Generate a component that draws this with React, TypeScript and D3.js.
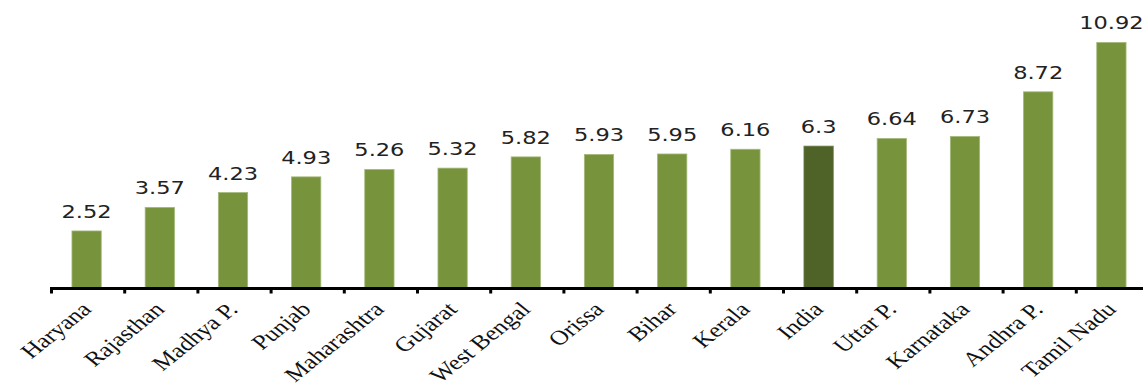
import React from "react";
import * as d3 from "d3";

const categories = ["Haryana","Rajasthan","Madhya P.","Punjab","Maharashtra","Gujarat","West Bengal","Orissa","Bihar","Kerala","India","Uttar P.","Karnataka","Andhra P.","Tamil Nadu"];
const values = [2.52,3.57,4.23,4.93,5.26,5.32,5.82,5.93,5.95,6.16,6.3,6.64,6.73,8.72,10.92];
const valueLabels = ["2.52","3.57","4.23","4.93","5.26","5.32","5.82","5.93","5.95","6.16","6.3","6.64","6.73","8.72","10.92"];
const highlight = "India";

const W = 1143, H = 388;
const AX_Y = 287.5;
const SX = 1.25;

export default function App() {
  const x = d3.scaleBand<string>().domain(categories).range([50, 50 + 15 * 73.2]).padding(0);
  const y = d3.scaleLinear().domain([0, 12]).range([AX_Y, AX_Y - 12 * 22.44]);
  const bw = x.step() * 0.4;
  const ticks = categories.map((c) => x(c)!);
  return (
    <svg width={W} height={H} style={{ position: "absolute", left: 0, top: 0, background: "#fff" }}>
      {categories.map((c, i) => {
        const cx = x(c)! + x.bandwidth() / 2;
        return (
          <g key={c}>
            <rect x={cx - bw / 2} y={y(values[i])} width={bw} height={y(0) - y(values[i])}
              fill={c === highlight ? "#4F6228" : "#77933C"} stroke={c === highlight ? "#6a7d45" : "#a3b97a"} strokeWidth={0.8} />
            <text transform={`translate(${cx},${y(values[i]) - 13}) scale(${SX},1)`} textAnchor="middle"
              fontFamily="DejaVu Sans" fontSize={18} fill="#222">{valueLabels[i]}</text>
            <text transform={`translate(${cx + 6},${AX_Y + 23}) scale(${SX},1) rotate(-45)`} textAnchor="end"
              fontFamily="Liberation Serif" fontSize={20.5} fill="#111">{c}</text>
          </g>
        );
      })}
      <line x1={50} x2={W} y1={AX_Y + 1} y2={AX_Y + 1} stroke="#000" strokeWidth={3} />
      {ticks.map((t, i) => (
        <line key={i} x1={t + 1.5} x2={t + 1.5} y1={AX_Y} y2={AX_Y + 6} stroke="#000" strokeWidth={3} />
      ))}
    </svg>
  );
}
